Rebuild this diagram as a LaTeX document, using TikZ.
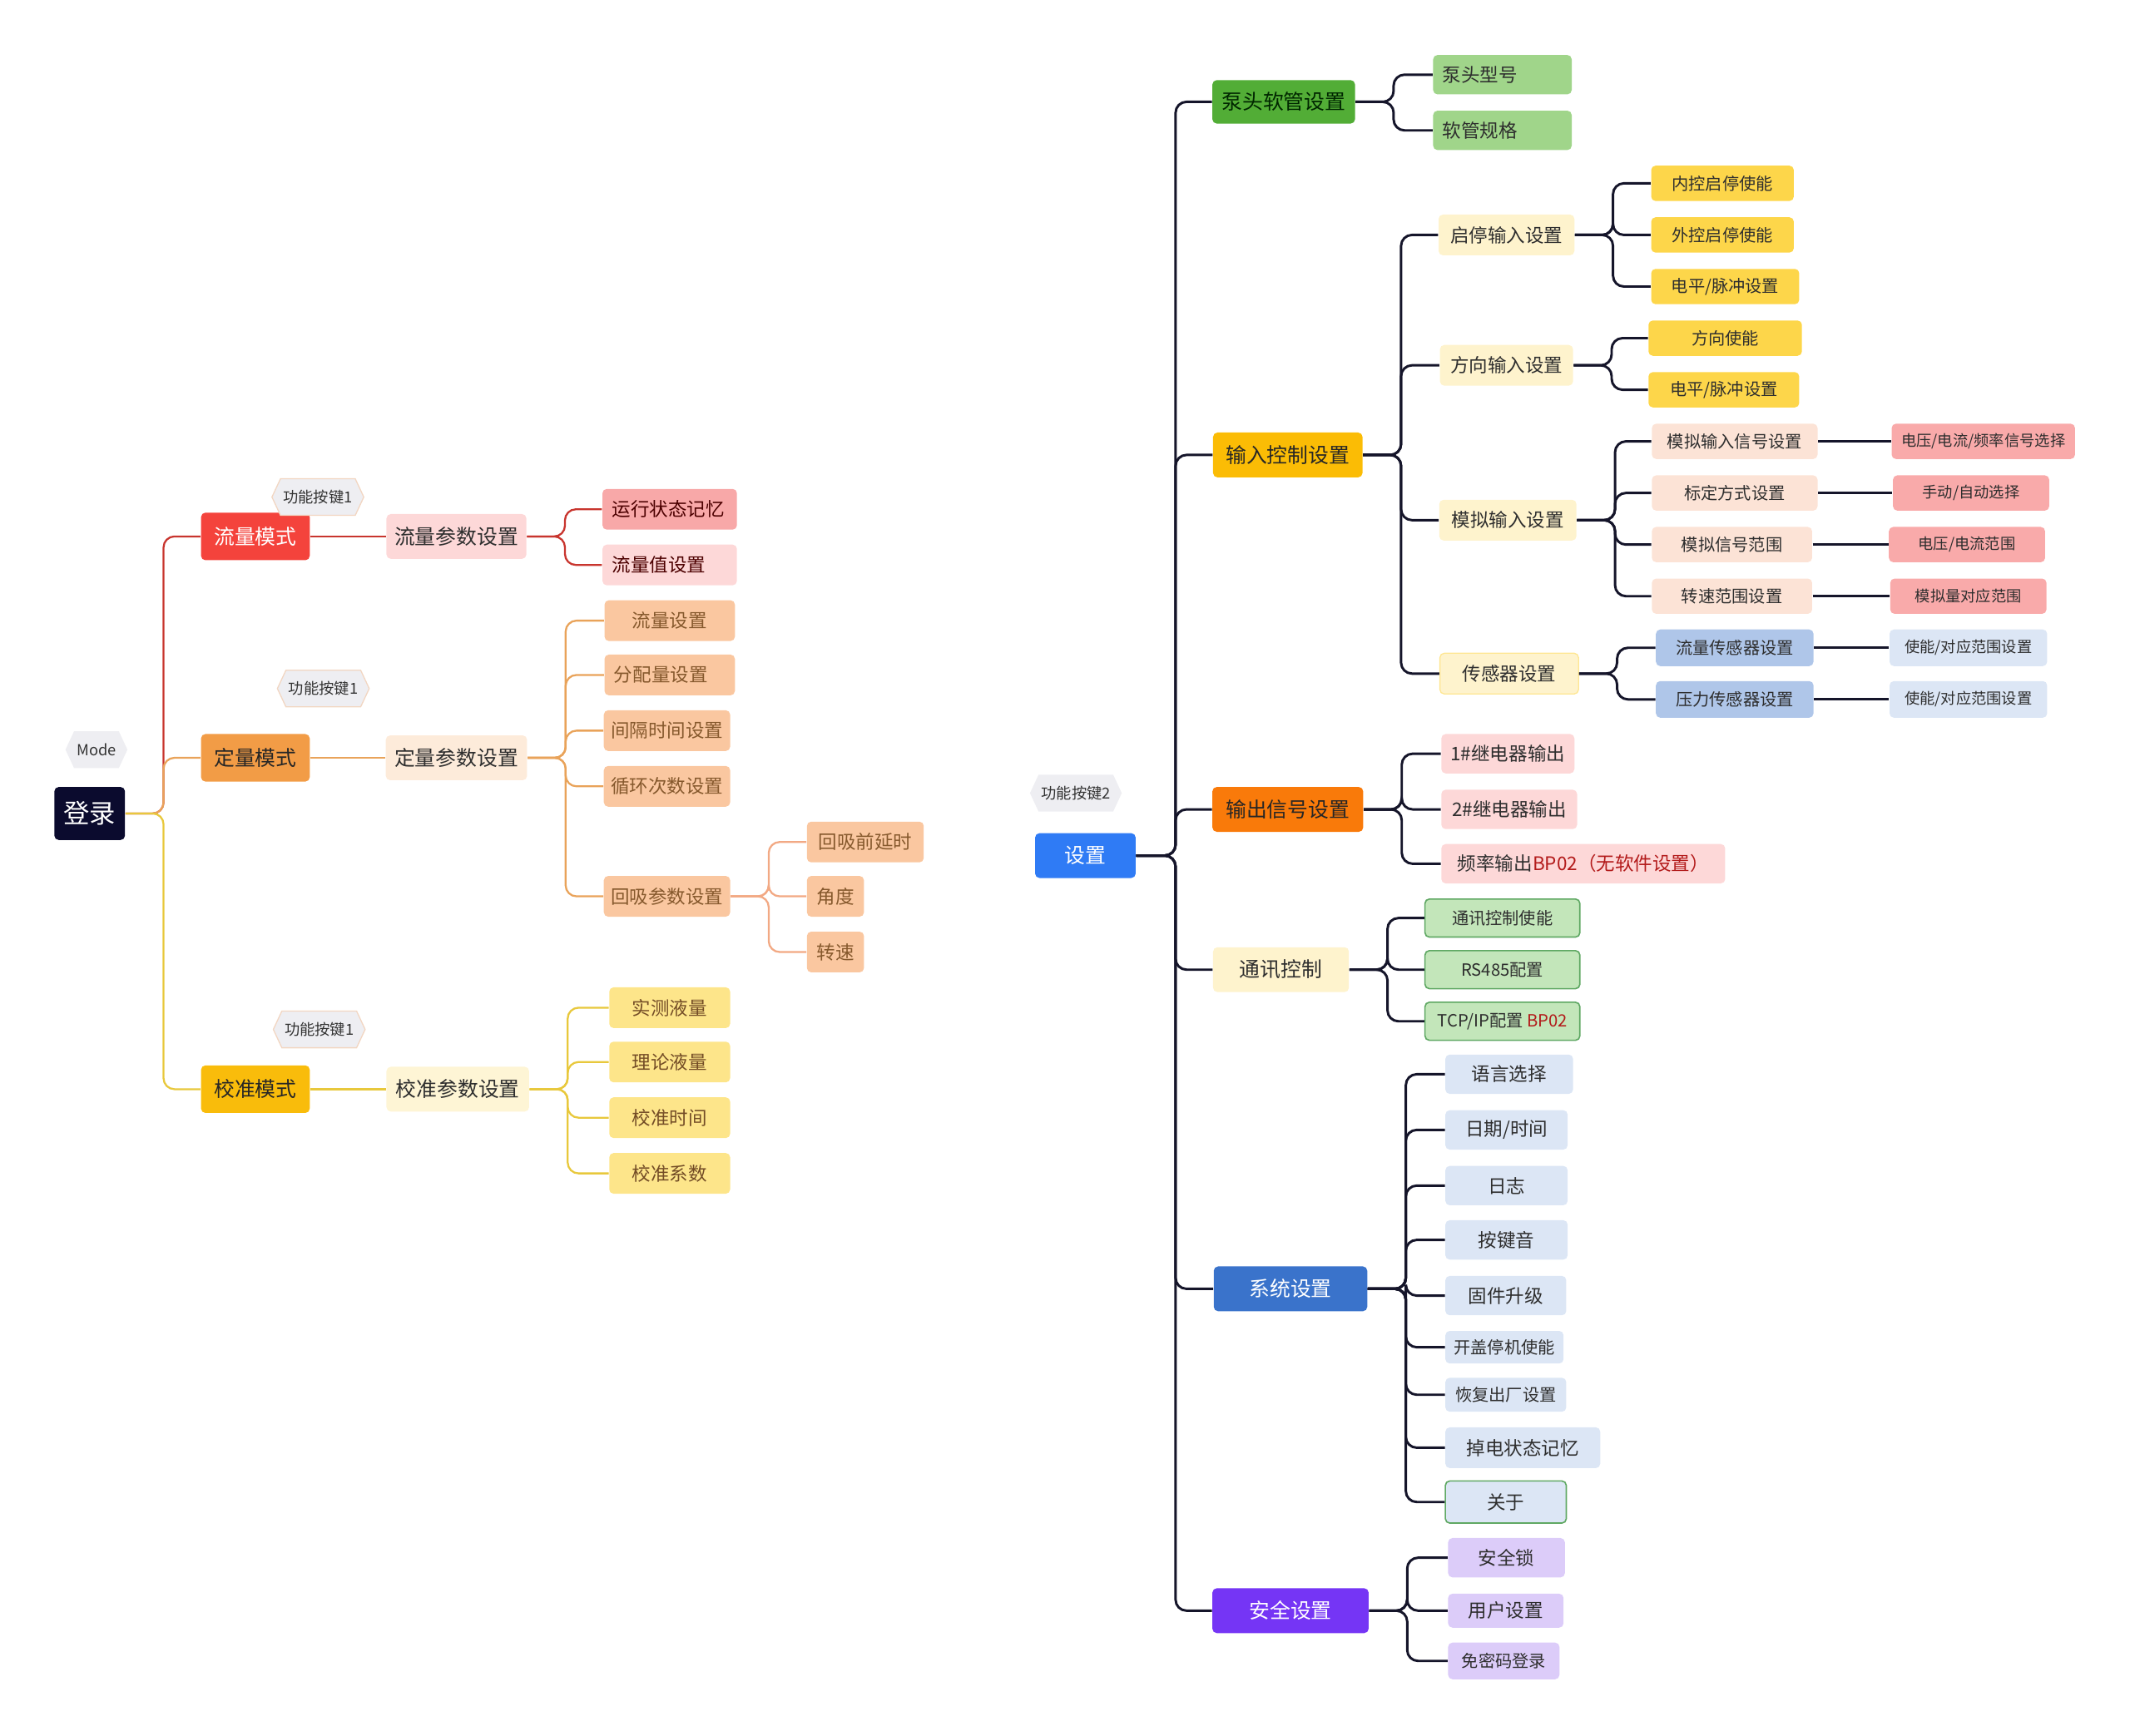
\documentclass[tikz,border=0pt]{standalone}
\usepackage{fontspec}
\setmainfont{Noto Sans CJK SC}
\usepackage{xcolor}
\usetikzlibrary{shapes.symbols}

\definecolor{rootnavy}{HTML}{0B0B2E}
\definecolor{tagfill}{HTML}{EEEEF2}
\definecolor{tagline}{HTML}{F2D6C2}
\definecolor{tagtext}{HTML}{333333}
\definecolor{flowred}{HTML}{F4433C}
\definecolor{pinkA}{HTML}{F8A8A8}
\definecolor{pinkB}{HTML}{FDD8D8}
\definecolor{doseorange}{HTML}{F29C46}
\definecolor{peachL}{HTML}{FDEBDA}
\definecolor{peachM}{HTML}{FAC7A0}
\definecolor{calamber}{HTML}{F9BC0B}
\definecolor{creamY}{HTML}{FEF5D5}
\definecolor{yellowM}{HTML}{FDE58A}
\definecolor{redline}{HTML}{C8352E}
\definecolor{orangeline}{HTML}{E9A35A}
\definecolor{salmonline}{HTML}{F2A984}
\definecolor{yellowline}{HTML}{E8C83C}
\definecolor{treeline}{HTML}{15152A}
\definecolor{setblue}{HTML}{2F7BF5}
\definecolor{pumpgreen}{HTML}{52AD36}
\definecolor{greenL}{HTML}{A0D58A}
\definecolor{inamber}{HTML}{FBBC05}
\definecolor{cream}{HTML}{FEF3CD}
\definecolor{yellowS}{HTML}{FDD64A}
\definecolor{peachP}{HTML}{FCE3D6}
\definecolor{pinkP}{HTML}{F9AAAA}
\definecolor{blueM}{HTML}{AFC6E9}
\definecolor{blueL}{HTML}{DCE6F5}
\definecolor{outorange}{HTML}{F97A0A}
\definecolor{commgreen}{HTML}{C3E6BA}
\definecolor{commline}{HTML}{5FA863}
\definecolor{sysblue}{HTML}{3A73CB}
\definecolor{safepurple}{HTML}{7535F5}
\definecolor{lavender}{HTML}{DCCCF9}
\definecolor{bpred}{HTML}{B31B1B}
\definecolor{darktext}{HTML}{2E2E2E}

\begin{document}
\begin{tikzpicture}[
  x=0.5pt, y=-0.5pt,
  every node/.style={text=darktext},
  box/.style={rectangle, rounded corners=1.6pt, inner sep=1pt, align=center},
  leftbox/.style={text width=#1, align=left, inner xsep=3.5pt},
  rootbox/.style={box, fill=rootnavy, text=white, font=\fontsize{9.6}{11}\selectfont, minimum width=26pt, minimum height=19.5pt},
  tag/.style={signal, signal to=east and west, signal pointer angle=130, fill=tagfill, draw=tagline, line width=0.4pt, text=tagtext, font=\fontsize{5.6}{6.5}\selectfont, inner xsep=1pt, minimum height=13.5pt},
  lvl1/.style={box, font=\fontsize{7.6}{9}\selectfont, minimum height=16.5pt},
  lvl2/.style={box, font=\fontsize{6.9}{8}\selectfont, minimum height=15pt},
  lvl3/.style={box, font=\fontsize{6.2}{7}\selectfont, minimum height=13pt},
  lvl4/.style={box, font=\fontsize{5.6}{6.5}\selectfont, minimum height=13pt},
  link/.style={rounded corners=4pt, line width=0.9pt, draw=treeline},
  slink/.style={rounded corners=4pt, line width=0.7pt}
]
\useasboundingbox (0,0) rectangle (1568,1278);

% Mode
\node[rootbox] (login) at (66,599) {登录};
\node[lvl1, fill=flowred, text=white, minimum width=40pt, minimum height=17.5pt] (flow) at (188,395) {流量模式};
\node[lvl1, fill=doseorange, text=black!85, minimum width=40pt, minimum height=17.5pt] (dose) at (188,558) {定量模式};
\node[lvl1, fill=calamber, text=black!85, minimum width=40pt, minimum height=17.5pt] (calib) at (188,802) {校准模式};

\node[lvl1, fill=pinkB, minimum width=51.5pt] (flowpar) at (336,395) {流量参数设置};
\node[lvl1, fill=peachL, minimum width=52pt] (dosepar) at (336,558) {定量参数设置};
\node[lvl1, fill=creamY, minimum width=52.5pt] (calibpar) at (337,802) {校准参数设置};

\node[lvl2, fill=pinkA, text=red!30!black, leftbox=42.5pt] (runmem) at (493,375) {运行状态记忆};
\node[lvl2, fill=pinkB, text=red!30!black, leftbox=42.5pt] (flowval) at (493,416) {流量值设置};

\node[lvl2, fill=peachM, text=brown!70!black, minimum width=48pt] (dflow) at (493,457) {流量设置};
\node[lvl2, fill=peachM, text=brown!70!black, leftbox=41pt] (dsplit) at (493,497) {分配量设置};
\node[lvl2, fill=peachM, text=brown!70!black, minimum width=46.5pt] (dgap) at (491,538) {间隔时间设置};
\node[lvl2, fill=peachM, text=brown!70!black, minimum width=46.5pt] (dcycle) at (491,579) {循环次数设置};
\node[lvl2, fill=peachM, text=brown!70!black, minimum width=46.5pt] (dsuck) at (491,660) {回吸参数设置};
\node[lvl2, fill=peachM, text=brown!70!black, minimum width=43pt] (sdelay) at (637,620) {回吸前延时};
\node[lvl2, fill=peachM, text=brown!70!black, minimum width=21pt] (sangle) at (615,660) {角度};
\node[lvl2, fill=peachM, text=brown!70!black, minimum width=21pt] (sspeed) at (615,701) {转速};

\node[lvl2, fill=yellowM, text=brown!60!black, minimum width=44.5pt] (cmeas) at (493,742) {实测液量};
\node[lvl2, fill=yellowM, text=brown!60!black, minimum width=44.5pt] (ctheo) at (493,782) {理论液量};
\node[lvl2, fill=yellowM, text=brown!60!black, minimum width=44.5pt] (ctime) at (493,823) {校准时间};
\node[lvl2, fill=yellowM, text=brown!60!black, minimum width=44.5pt] (ccoef) at (493,864) {校准系数};

% Mode connectors
\draw[slink, redline] (login.east) -- ++(28,0) |- (flow.west);
\draw[slink, orangeline] (login.east) -- ++(28,0) |- (dose.west);
\draw[slink, yellowline] (login.east) -- ++(28,0) |- (calib.west);
\draw[slink, redline] (flow) -- (flowpar);
\draw[slink, orangeline] (dose) -- (dosepar);
\draw[slink, yellowline] (calib) -- (calibpar);
\foreach \c in {runmem, flowval}
  \draw[slink, redline] (flowpar.east) -- ++(28,0) |- (\c.west);
\foreach \c in {dflow, dsplit, dgap, dcycle, dsuck}
  \draw[slink, orangeline] (dosepar.east) -- ++(28,0) |- (\c.west);
\foreach \c in {sdelay, sangle, sspeed}
  \draw[slink, salmonline] (dsuck.east) -- ++(28,0) |- (\c.west);
\foreach \c in {cmeas, ctheo, ctime, ccoef}
  \draw[slink, yellowline] (calibpar.east) -- ++(28,0) |- (\c.west);

\node[tag, draw=none] (mode) at (71,552) {Mode};
\node[tag] (tagA) at (234,366) {功能按键1};
\node[tag] (tagB) at (238,507) {功能按键1};
\node[tag] (tagC) at (235,758) {功能按键1};

% Setup
\node[lvl1, fill=setblue, text=white, minimum width=37pt] (setup) at (799,630) {设置};
\node[tag, draw=none] (tagD) at (792,584) {功能按键2};

\node[lvl1, fill=pumpgreen, text=green!15!black, minimum width=52.5pt, minimum height=16pt] (pump) at (945,75) {泵头软管设置};
\node[lvl1, fill=inamber, text=black!85, minimum width=55pt] (input) at (948,335) {输入控制设置};
\node[lvl1, fill=outorange, text=black!85, minimum width=55.5pt] (output) at (948,596) {输出信号设置};
\node[lvl1, fill=cream, minimum width=50pt] (comm) at (943,714) {通讯控制};
\node[lvl1, fill=sysblue, text=white, minimum width=56.5pt] (sys) at (950,949) {系统设置};
\node[lvl1, fill=safepurple, text=white, minimum width=57.5pt] (safe) at (950,1186) {安全设置};

\node[lvl2, fill=greenL, leftbox=44pt, minimum height=14.5pt] (pumptype) at (1106,55) {泵头型号};
\node[lvl2, fill=greenL, leftbox=44pt, minimum height=14.5pt] (hose) at (1106,96) {软管规格};

\node[lvl2, fill=cream, minimum width=50pt] (startin) at (1109,173) {启停输入设置};
\node[lvl2, fill=cream, minimum width=49pt] (dirin) at (1109,269) {方向输入设置};
\node[lvl2, fill=cream, minimum width=50.5pt] (anain) at (1110,383) {模拟输入设置};
\node[lvl2, fill=cream, draw=yellowS!60, line width=0.4pt, minimum width=51pt] (sensor) at (1111,496) {传感器设置};

\node[lvl3, fill=yellowS, minimum width=52.5pt] (inA) at (1268,135) {内控启停使能};
\node[lvl3, fill=yellowS, minimum width=52.5pt] (exA) at (1268,173) {外控启停使能};
\node[lvl3, fill=yellowS, minimum width=54.5pt] (lvA) at (1270,211) {电平/脉冲设置};
\node[lvl3, fill=yellowS, minimum width=56.5pt] (dirA) at (1270,249) {方向使能};
\node[lvl3, fill=yellowS, minimum width=55.5pt] (lvB) at (1269,287) {电平/脉冲设置};

\node[lvl3, fill=peachP, minimum width=61pt] (anasig) at (1277,325) {模拟输入信号设置};
\node[lvl3, fill=peachP, minimum width=61pt] (calway) at (1277,363) {标定方式设置};
\node[lvl3, fill=peachP, minimum width=59pt] (sigrange) at (1275,401) {模拟信号范围};
\node[lvl3, fill=peachP, minimum width=59pt] (spdrange) at (1275,439) {转速范围设置};
\node[lvl4, fill=pinkP, minimum width=67.5pt] (sigsel) at (1460,325) {电压/电流/频率信号选择};
\node[lvl4, fill=pinkP, minimum width=57.5pt] (manauto) at (1451,363) {手动/自动选择};
\node[lvl4, fill=pinkP, minimum width=57.5pt] (varange) at (1448,401) {电压/电流范围};
\node[lvl4, fill=pinkP, minimum width=57.5pt] (spdmap) at (1449,439) {模拟量对应范围};

\node[lvl3, fill=blueM, minimum width=58pt, minimum height=13.5pt] (flowsen) at (1277,477) {流量传感器设置};
\node[lvl3, fill=blueM, minimum width=58pt, minimum height=13.5pt] (presen) at (1277,515) {压力传感器设置};
\node[lvl4, fill=blueL, minimum width=58pt, minimum height=13.5pt] (flowmap) at (1449,477) {使能/对应范围设置};
\node[lvl4, fill=blueL, minimum width=58pt, minimum height=13.5pt] (presmap) at (1449,515) {使能/对应范围设置};

\node[lvl2, fill=pinkB, minimum width=49pt, minimum height=14.5pt] (relayA) at (1110,555) {1\#继电器输出};
\node[lvl2, fill=pinkB, minimum width=50pt, minimum height=14.5pt] (relayB) at (1111,596) {2\#继电器输出};
\node[lvl2, fill=pinkB, minimum width=104.5pt, minimum height=14.5pt] (freqout) at (1165.5,636) {频率输出\textcolor{bpred}{BP02（无软件设置）}};

\node[lvl3, fill=commgreen, draw=commline, line width=0.5pt, minimum width=57pt, minimum height=14pt] (commA) at (1106,676) {通讯控制使能};
\node[lvl3, fill=commgreen, draw=commline, line width=0.5pt, minimum width=57pt, minimum height=14pt] (rs485) at (1106,714) {RS485配置};
\node[lvl3, fill=commgreen, draw=commline, line width=0.5pt, minimum width=57pt, minimum height=14pt] (tcpip) at (1106,752) {TCP/IP配置 \textcolor{bpred}{BP02}};

\node[lvl2, fill=blueL, minimum width=47pt, minimum height=14.5pt] (lang) at (1111,791) {语言选择};
\node[lvl2, fill=blueL, minimum width=45pt, minimum height=14.5pt] (date) at (1109,832) {日期/时间};
\node[lvl2, fill=blueL, minimum width=45pt, minimum height=14.5pt] (log) at (1109,873) {日志};
\node[lvl2, fill=blueL, minimum width=45pt, minimum height=14.5pt] (keytone) at (1109,913) {按键音};
\node[lvl2, fill=blueL, minimum width=44.5pt, minimum height=14.5pt] (fw) at (1108.5,954) {固件升级};
\node[lvl3, fill=blueL, minimum width=43.5pt, minimum height=12pt] (lidstop) at (1107.5,992) {开盖停机使能};
\node[lvl3, fill=blueL, minimum width=44.5pt, minimum height=12.5pt] (reset) at (1108.5,1027) {恢复出厂设置};
\node[lvl2, fill=blueL, minimum width=57pt, minimum height=15pt] (pwrmem) at (1121,1066) {掉电状态记忆};
\node[lvl2, fill=blueL, draw=commline, line width=0.5pt, minimum width=44.5pt, minimum height=15.5pt] (about) at (1108.5,1106) {关于};

\node[lvl2, fill=lavender, minimum width=43pt, minimum height=14.5pt] (lock) at (1109,1147) {安全锁};
\node[lvl2, fill=lavender, minimum width=42.5pt, minimum height=12.5pt] (user) at (1108.5,1186) {用户设置};
\node[lvl3, fill=lavender, minimum width=41pt, minimum height=13.5pt] (nopw) at (1107,1223) {免密码登录};

% Setup connectors
\foreach \c in {pump, input, output, comm, sys, safe}
  \draw[link] (setup.east) -- ++(29,0) |- (\c.west);
\foreach \p/\c in {pump/pumptype, pump/hose,
                   input/startin, input/dirin, input/anain, input/sensor,
                   startin/inA, startin/exA, startin/lvA, dirin/dirA, dirin/lvB,
                   anain/anasig, anain/calway, anain/sigrange, anain/spdrange,
                   sensor/flowsen, sensor/presen,
                   output/relayA, output/relayB, output/freqout,
                   comm/commA, comm/rs485, comm/tcpip,
                   sys/lang, sys/date, sys/log, sys/keytone, sys/fw, sys/lidstop, sys/reset, sys/pwrmem, sys/about,
                   safe/lock, safe/user, safe/nopw}
  \draw[link] (\p.east) -- ++(28,0) |- (\c.west);
\foreach \p/\c in {anasig/sigsel, calway/manauto, sigrange/varange, spdrange/spdmap, flowsen/flowmap, presen/presmap}
  \draw[link] (\p) -- (\c);
\end{tikzpicture}
\end{document}
